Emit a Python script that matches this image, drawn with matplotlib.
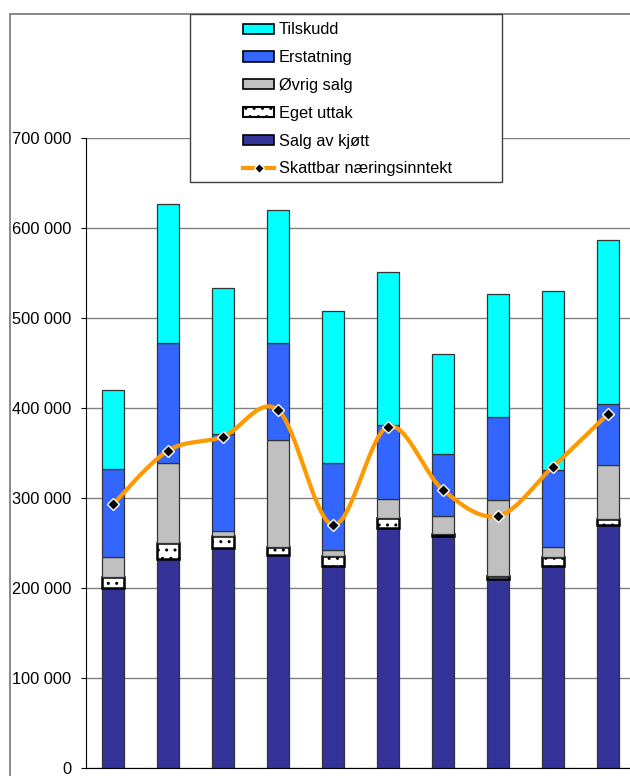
import numpy as np
import matplotlib
matplotlib.use('Agg')
import matplotlib.pyplot as plt
from matplotlib.patches import Rectangle, Patch
from matplotlib.lines import Line2D
from matplotlib.ticker import FuncFormatter

plt.rcParams['font.family'] = ['Liberation Sans', 'DejaVu Sans']
plt.rcParams['hatch.color'] = 'black'

# values per farm, kr
salg_kjott = [200000, 232000, 245000, 237000, 224000, 267000, 258000, 210000, 224000, 270000]
eget_uttak = [12000, 17500, 13000, 9000, 11500, 11000, 1500, 3000, 11000, 6500]
ovrig_salg = [22000, 89000, 5000, 118500, 6500, 21000, 20500, 84500, 11000, 60000]
erstatning = [98000, 133500, 108500, 107500, 96500, 82000, 69000, 93000, 85000, 67500]
tilskudd = [87500, 154500, 161500, 147500, 169500, 170000, 110500, 136000, 199500, 183000]
skattbar = [293000, 352600, 368100, 397800, 270000, 379300, 308900, 280000, 334800, 393300]

W, H = 630, 776
fs = 11.8

def smooth(xs, ys, n=30):
    # catmull-rom curve through the points (like excel's smoothed line)
    x = np.asarray(xs, float); y = np.asarray(ys, float)
    px = np.concatenate([[x[0]], x, [x[-1]]])
    py = np.concatenate([[y[0]], y, [y[-1]]])
    out_x, out_y = [], []
    t = np.linspace(0, 1, n)
    for i in range(1, len(px) - 2):
        for p, o in ((px, out_x), (py, out_y)):
            p0, p1, p2, p3 = p[i-1], p[i], p[i+1], p[i+2]
            c = 0.5 * ((2*p1) + (-p0 + p2)*t + (2*p0 - 5*p1 + 4*p2 - p3)*t**2
                       + (-p0 + 3*p1 - 3*p2 + p3)*t**3)
            o.extend(c)
    return out_x, out_y

fig = plt.figure(figsize=(W/100, H/100), dpi=100)
ax = fig.add_axes([85.5/W, 8/H, 550/W, 630/H])

x = np.arange(len(salg_kjott))
bw = 0.4
edge = dict(edgecolor='#333333', linewidth=0.9)
bottom = np.zeros(len(x))
ax.bar(x, salg_kjott, bw, bottom=bottom, color='#333399', zorder=2, **edge)
bottom += salg_kjott
ax.bar(x, eget_uttak, bw, bottom=bottom, color='white', hatch='..',
       edgecolor='black', linewidth=1.8, zorder=2)
bottom += eget_uttak
ax.bar(x, ovrig_salg, bw, bottom=bottom, color='#C0C0C0', zorder=2, **edge)
bottom += ovrig_salg
ax.bar(x, erstatning, bw, bottom=bottom, color='#3366FF', zorder=2, **edge)
bottom += erstatning
ax.bar(x, tilskudd, bw, bottom=bottom, color='#00FFFF', zorder=2, **edge)

sx, sy = smooth(x, skattbar)
ax.plot(sx, sy, color='#FF9900', lw=3, zorder=3, solid_capstyle='round')
ax.plot(x, skattbar, ls='none', marker='D', ms=6, mfc='black', mec='white',
        mew=1, zorder=4)

ax.set_xlim(-0.5, len(x) - 0.5)
ax.set_ylim(0, 700000)
ax.set_yticks(np.arange(0, 700001, 100000))
ax.yaxis.set_major_formatter(FuncFormatter(lambda v, p: f"{int(v):,}".replace(",", " ")))
ax.set_xticks([])
ax.grid(axis='y', color='#808080', lw=1, zorder=0)
ax.set_axisbelow(True)
for s in ('top', 'right'):
    ax.spines[s].set_visible(False)
ax.spines['left'].set_color('black')
ax.spines['bottom'].set_color('black')
ax.tick_params(axis='y', length=3.6, width=0.8, pad=6.5, labelsize=fs, colors='black')

# outer chart frame
fig.patches.append(Rectangle((10/W, -0.2), 2, 1.2 - 14/H, transform=fig.transFigure,
                             fill=False, edgecolor='#808080', lw=1.3, zorder=1))
# legend box
fig.patches.append(Rectangle((190/W, 1 - 182/H), 312/W, 168/H, transform=fig.transFigure,
                             facecolor='white', edgecolor='#404040', lw=1, zorder=1))

handles = [
    Patch(facecolor='#00FFFF', edgecolor='black', lw=1.2),
    Patch(facecolor='#3366FF', edgecolor='black', lw=1.2),
    Patch(facecolor='#C0C0C0', edgecolor='black', lw=1.2),
    Patch(facecolor='white', edgecolor='black', lw=1.5, hatch='..'),
    Patch(facecolor='#333399', edgecolor='black', lw=1.2),
    Line2D([], [], color='#FF9900', lw=3, marker='D', ms=5, mfc='black', mec='white'),
]
labels = ['Tilskudd', 'Erstatning', 'Øvrig salg', 'Eget uttak', 'Salg av kjøtt',
          'Skattbar næringsinntekt']
fig.legend(handles, labels, loc='upper left', bbox_to_anchor=(243/W, 1 - 22.5/H),
           bbox_transform=fig.transFigure, frameon=False, fontsize=fs,
           borderpad=0, borderaxespad=0, handlelength=1.9, handleheight=0.6,
           handletextpad=0.3, labelspacing=0.78, numpoints=1)

fig.savefig('out.png', dpi=100)
